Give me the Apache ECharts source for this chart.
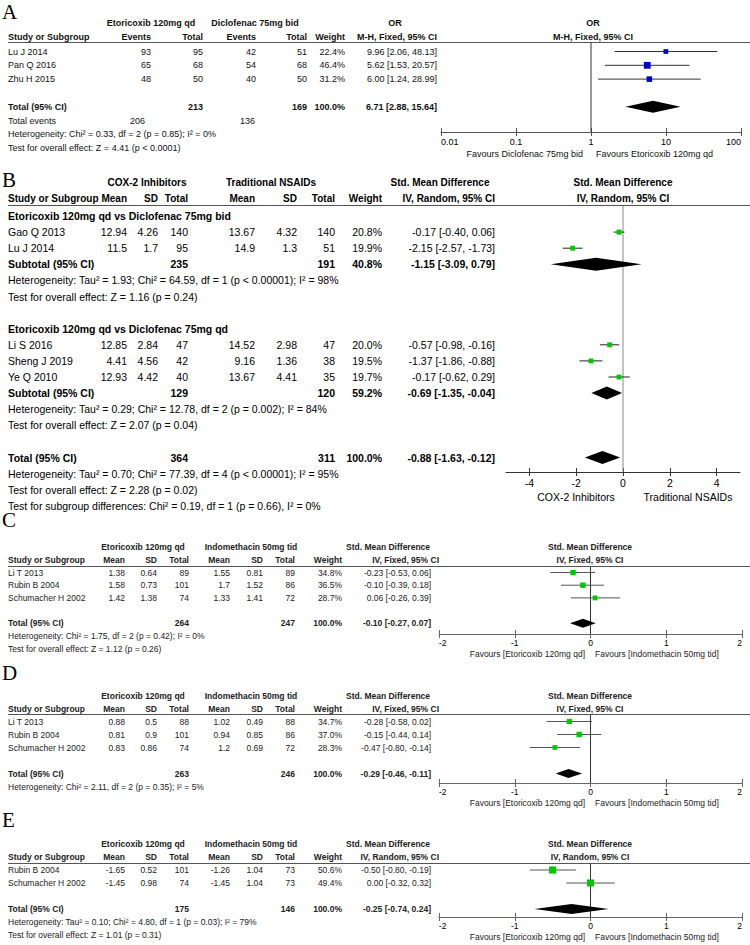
<!DOCTYPE html>
<html><head><meta charset="utf-8">
<script src="https://cdn.jsdelivr.net/npm/echarts@6/dist/echarts.min.js"></script>
<style>html,body{margin:0;padding:0;background:#fff}#c{width:750px;height:945px}</style>
</head><body><div id="c"></div>
<script>
// ================= DATA =================
// Panel A
const A_study = ['Lu J 2014', 'Pan Q 2016', 'Zhu H 2015'];
const A_expEvents = [93, 65, 48];
const A_expTotal = [95, 68, 50];
const A_ctlEvents = [42, 54, 40];
const A_ctlTotal = [51, 68, 50];
const A_weight = [22.4, 46.4, 31.2];
const A_or = [9.96, 5.62, 6.00];
const A_lo = [2.06, 1.53, 1.24];
const A_hi = [48.13, 20.57, 28.99];
const A_pooled = [6.71, 2.88, 15.64];
const A_sumTotals = [213, 169];
const A_sumEvents = [206, 136];
const A_ticks = ['0.01', '0.1', '1', '10', '100'];
const A_het = 'Heterogeneity: Chi² = 0.33, df = 2 (p = 0.85); I² = 0%';
const A_test = 'Test for overall effect: Z = 4.41 (p < 0.0001)';

// Panel B
const B_groups = ['Etoricoxib 120mg qd vs Diclofenac 75mg bid', 'Etoricoxib 120mg qd vs Diclofenac 75mg qd'];
const B_groupOf = [0, 0, 1, 1, 1];
const B_study = ['Gao Q 2013', 'Lu J 2014', 'Li S 2016', 'Sheng J 2019', 'Ye Q 2010'];
const B_mean1 = [12.94, 11.5, 12.85, 4.41, 12.93];
const B_sd1 = [4.26, 1.7, 2.84, 4.56, 4.42];
const B_n1 = [140, 95, 47, 42, 40];
const B_mean2 = [13.67, 14.9, 14.52, 9.16, 13.67];
const B_sd2 = [4.32, 1.3, 2.98, 1.36, 4.41];
const B_n2 = [140, 51, 47, 38, 35];
const B_weight = [20.8, 19.9, 20.0, 19.5, 19.7];
const B_smd = [-0.17, -2.15, -0.57, -1.37, -0.17];
const B_lo = [-0.40, -2.57, -0.98, -1.86, -0.62];
const B_hi = [0.06, -1.73, -0.16, -0.88, 0.29];
const B_subN1 = [235, 129];
const B_subN2 = [191, 120];
const B_subW = [40.8, 59.2];
const B_subEst = [-1.15, -0.69];
const B_subLo = [-3.09, -1.35];
const B_subHi = [0.79, -0.04];
const B_subHet = ['Heterogeneity: Tau² = 1.93; Chi² = 64.59, df = 1 (p < 0.00001); I² = 98%',
                  'Heterogeneity: Tau² = 0.29; Chi² = 12.78, df = 2 (p = 0.002); I² = 84%'];
const B_subTest = ['Test for overall effect: Z = 1.16 (p = 0.24)', 'Test for overall effect: Z = 2.07 (p = 0.04)'];
const B_totals = [364, 311];
const B_pooled = [-0.88, -1.63, -0.12];
const B_het = 'Heterogeneity: Tau² = 0.70; Chi² = 77.39, df = 4 (p < 0.00001); I² = 95%';
const B_test = 'Test for overall effect: Z = 2.28 (p = 0.02)';
const B_diff = 'Test for subgroup differences: Chi² = 0.19, df = 1 (p = 0.66), I² = 0%';
const B_ticks = [-4, -2, 0, 2, 4];

// Panel C
const C_study = ['Li T 2013', 'Rubin B 2004', 'Schumacher H 2002'];
const C_mean1 = [1.38, 1.58, 1.42];
const C_sd1 = [0.64, 0.73, 1.38];
const C_n1 = [89, 101, 74];
const C_mean2 = [1.55, 1.7, 1.33];
const C_sd2 = [0.81, 1.52, 1.41];
const C_n2 = [89, 86, 72];
const C_weight = [34.8, 36.5, 28.7];
const C_smd = [-0.23, -0.10, 0.06];
const C_lo = [-0.53, -0.39, -0.26];
const C_hi = [0.06, 0.18, 0.39];
const C_totals = [264, 247];
const C_pooled = [-0.10, -0.27, 0.07];
const C_notes = ['Heterogeneity: Chi² = 1.75, df = 2 (p = 0.42); I² = 0%', 'Test for overall effect: Z = 1.12 (p = 0.26)'];

// Panel D
const D_study = ['Li T 2013', 'Rubin B 2004', 'Schumacher H 2002'];
const D_mean1 = [0.88, 0.81, 0.83];
const D_sd1 = [0.5, 0.9, 0.86];
const D_n1 = [88, 101, 74];
const D_mean2 = [1.02, 0.94, 1.2];
const D_sd2 = [0.49, 0.85, 0.69];
const D_n2 = [88, 86, 72];
const D_weight = [34.7, 37.0, 28.3];
const D_smd = [-0.28, -0.15, -0.47];
const D_lo = [-0.58, -0.44, -0.80];
const D_hi = [0.02, 0.14, -0.14];
const D_totals = [263, 246];
const D_pooled = [-0.29, -0.46, -0.11];
const D_notes = ['Heterogeneity: Chi² = 2.11, df = 2 (p = 0.35); I² = 5%'];

// Panel E
const E_study = ['Rubin B 2004', 'Schumacher H 2002'];
const E_mean1 = [-1.65, -1.45];
const E_sd1 = [0.52, 0.98];
const E_n1 = [101, 74];
const E_mean2 = [-1.26, -1.45];
const E_sd2 = [1.04, 1.04];
const E_n2 = [73, 73];
const E_weight = [50.6, 49.4];
const E_smd = [-0.50, 0.00];
const E_lo = [-0.80, -0.32];
const E_hi = [-0.19, 0.32];
const E_totals = [175, 146];
const E_pooled = [-0.25, -0.74, 0.24];
const E_notes = ['Heterogeneity: Tau² = 0.10; Chi² = 4.80, df = 1 (p = 0.03); I² = 79%', 'Test for overall effect: Z = 1.01 (p = 0.31)'];

const CDE_ticks = [-2, -1, 0, 1, 2];

// ================= RENDERING =================
const SANS = '"Liberation Sans", Arial, Helvetica, sans-serif';
const SERIF = '"Liberation Serif", "Times New Roman", serif';
const graphics = [];
function T(x, y, text, size, opt) {
  opt = opt || {};
  const align = opt.align || 'left';
  graphics.push({
    type: 'text', x: x, y: y, silent: true, z: 10,
    style: {
      text: String(text),
      font: (opt.bold ? 'bold ' : '') + size + 'px ' + (opt.family || SANS),
      fill: opt.color || '#000',
      textAlign: align, textVerticalAlign: 'middle', align: align, verticalAlign: 'middle'
    }
  });
}
function HL(x1, x2, y, color) {
  graphics.push({ type: 'line', silent: true, z: 5, shape: { x1: x1, y1: y, x2: x2, y2: y }, style: { stroke: color, lineWidth: 1 } });
}
const ci = (e, l, h) => e.toFixed(2) + ' [' + l.toFixed(2) + ', ' + h.toFixed(2) + ']';
const pct = w => w.toFixed(1) + '%';

const grids = [], xAxes = [], yAxes = [], series = [];
function addPlot(L) {
  const gi = grids.length;
  grids.push({ left: L.left, top: L.top, width: L.right - L.left, height: L.bottom - L.top, containLabel: false });
  const yMin = (L.top - L.y0) / L.dy, yMax = (L.bottom - L.y0) / L.dy;
  yAxes.push({ type: 'value', gridIndex: gi, min: yMin, max: yMax, inverse: true, show: false });
  const base = { type: L.xType, gridIndex: gi, min: L.xMin, max: L.xMax, position: 'bottom', splitLine: { show: false } };
  if (L.xType === 'log') base.logBase = 10;
  if (L.interval) base.interval = L.interval;
  const labelCfg = { show: true, fontSize: L.fontSize, fontFamily: 'Liberation Sans', color: '#000', margin: L.margin, hideOverlap: false };
  if (L.labelFmt) labelCfg.formatter = L.labelFmt;
  if (L.alignEnds) { labelCfg.alignMinLabel = 'left'; labelCfg.alignMaxLabel = 'right'; }
  const tickCfg = { show: true, length: 4, lineStyle: { color: L.axisColor } };
  if (L.ticks) { labelCfg.customValues = L.ticks; tickCfg.customValues = L.ticks; }
  const xi = xAxes.length;
  xAxes.push(Object.assign({}, base, { axisLine: { show: true, onZero: false, lineStyle: { color: L.axisColor } }, axisTick: tickCfg, axisLabel: labelCfg }));
  xAxes.push(Object.assign({}, base, { axisLine: { show: false, onZero: false }, axisTick: Object.assign({}, tickCfg, { inside: true }), axisLabel: { show: false } }));
  const P = { xi: xi, yi: gi, yMin: yMin, yMax: yMax };
  // line of no effect
  series.push({
    type: 'custom', xAxisIndex: xi, yAxisIndex: gi, clip: false, silent: true, z: 2,
    data: [[L.nullVal, yMin, yMax]], encode: { x: 0, y: [1, 2] },
    renderItem: function (p, api) {
      const a = api.coord([api.value(0), api.value(1)]), b = api.coord([api.value(0), api.value(2)]);
      return { type: 'line', shape: { x1: a[0], y1: a[1], x2: b[0], y2: b[1] }, style: { stroke: L.nullColor, lineWidth: 1 } };
    }
  });
  return P;
}
function addStudies(P, est, lo, hi, rows, weights, k, fill, stroke) {
  series.push({
    type: 'custom', xAxisIndex: P.xi, yAxisIndex: P.yi, clip: false, silent: true, z: 3,
    data: est.map((e, i) => [e, lo[i], hi[i], rows[i], weights[i]]),
    encode: { x: [0, 1, 2], y: 3 },
    renderItem: function (p, api) {
      const c = api.coord([api.value(0), api.value(3)]);
      const a = api.coord([api.value(1), api.value(3)]);
      const b = api.coord([api.value(2), api.value(3)]);
      const s = Math.sqrt(api.value(4)) * k;
      return { type: 'group', children: [
        { type: 'line', shape: { x1: a[0], y1: c[1], x2: b[0], y2: c[1] }, style: { stroke: stroke, lineWidth: 1 } },
        { type: 'rect', shape: { x: c[0] - s / 2, y: c[1] - s / 2, width: s, height: s }, style: { fill: fill } }
      ] };
    }
  });
}
function addDiamonds(P, items, h) {
  series.push({
    type: 'custom', xAxisIndex: P.xi, yAxisIndex: P.yi, clip: false, silent: true, z: 4,
    data: items, encode: { x: [0, 1, 2], y: 3 },
    renderItem: function (p, api) {
      const c = api.coord([api.value(0), api.value(3)]);
      const l = api.coord([api.value(1), api.value(3)]);
      const r = api.coord([api.value(2), api.value(3)]);
      return { type: 'polygon', shape: { points: [[l[0], c[1]], [c[0], c[1] - h / 2], [r[0], c[1]], [c[0], c[1] + h / 2]] }, style: { fill: '#000' } };
    }
  });
}

// ---------- Panel A ----------
(function () {
  const y0 = 51.5, dy = 13.8, f = 9, col = '#111';
  const ry = r => y0 + dy * r;
  T(2, 12, 'A', 21, { family: SERIF });
  const b = { bold: true, color: col };
  T(151, 23, 'Etoricoxib 120mg qd', f, Object.assign({ align: 'center' }, b));
  T(255, 23, 'Diclofenac 75mg bid', f, Object.assign({ align: 'center' }, b));
  T(395, 23, 'OR', f, Object.assign({ align: 'center' }, b));
  T(593, 23, 'OR', f, Object.assign({ align: 'center' }, b));
  T(8, 37, 'Study or Subgroup', f, b);
  [['Events', 151], ['Total', 203], ['Events', 256], ['Total', 307], ['Weight', 345], ['M-H, Fixed, 95% CI', 437]]
    .forEach(h => T(h[1], 37, h[0], f, Object.assign({ align: 'right' }, b)));
  T(593, 37, 'M-H, Fixed, 95% CI', f, Object.assign({ align: 'center' }, b));
  HL(8, 750, 42.5, '#555');
  const n = A_study.length;
  const rows = A_study.map((s, i) => i);
  A_study.forEach((s, i) => {
    const y = ry(rows[i]), o = { align: 'right', color: col };
    T(8, y, s, f, { color: col });
    T(151, y, A_expEvents[i], f, o); T(203, y, A_expTotal[i], f, o);
    T(256, y, A_ctlEvents[i], f, o); T(307, y, A_ctlTotal[i], f, o);
    T(345, y, pct(A_weight[i]), f, o); T(437, y, ci(A_or[i], A_lo[i], A_hi[i]), f, o);
  });
  const tr = n + 1, ob = { align: 'right', bold: true, color: col };
  T(8, ry(tr), 'Total (95% CI)', f, b);
  T(203, ry(tr), A_sumTotals[0], f, ob); T(307, ry(tr), A_sumTotals[1], f, ob);
  T(345, ry(tr), '100.0%', f, ob); T(437, ry(tr), ci(A_pooled[0], A_pooled[1], A_pooled[2]), f, ob);
  T(8, ry(tr + 1), 'Total events', f, { color: col });
  T(145, ry(tr + 1), A_sumEvents[0], f, { align: 'right', color: col });
  T(255, ry(tr + 1), A_sumEvents[1], f, { align: 'right', color: col });
  T(8, ry(tr + 2), A_het, f, { color: col });
  T(8, ry(tr + 3), A_test, f, { color: col });
  const P = addPlot({ left: 441, right: 741, top: 42.5, bottom: 132, y0: y0, dy: dy, xType: 'log', xMin: 0.01, xMax: 100,
    fontSize: f, margin: 5, axisColor: '#555', nullVal: 1, nullColor: '#333', alignEnds: true,
    labelFmt: v => A_ticks.find(t => Math.abs(Math.log10(+t) - Math.log10(v)) < 1e-6) || '' });
  addStudies(P, A_or, A_lo, A_hi, rows, A_weight, 1.0, '#0000cc', '#333');
  addDiamonds(P, [[A_pooled[0], A_pooled[1], A_pooled[2], tr]], 12);
  T(583, 154, 'Favours Diclofenac 75mg bid', f, { align: 'right', color: col });
  T(596, 154, 'Favours Etoricoxib 120mg qd', f, { color: col });
})();

// ---------- Panel B ----------
(function () {
  const y0 = 216, dy = 16.1, f = 10.5, fh = 10, col = '#000';
  const ry = r => y0 + dy * r;
  T(2, 180, 'B', 21, { family: SERIF });
  const b = { bold: true, color: col };
  T(147, 182, 'COX-2 Inhibitors', fh, Object.assign({ align: 'center' }, b));
  T(271, 182, 'Traditional NSAIDs', fh, Object.assign({ align: 'center' }, b));
  T(440, 182, 'Std. Mean Difference', fh, Object.assign({ align: 'center' }, b));
  T(623, 182, 'Std. Mean Difference', fh, Object.assign({ align: 'center' }, b));
  T(8, 198, 'Study or Subgroup', fh, b);
  [['Mean', 127], ['SD', 158], ['Total', 188], ['Mean', 255], ['SD', 297], ['Total', 335], ['Weight', 382], ['IV, Random, 95% CI', 495]]
    .forEach(h => T(h[1], 198, h[0], fh, Object.assign({ align: 'right' }, b)));
  T(623, 198, 'IV, Random, 95% CI', fh, Object.assign({ align: 'center' }, b));
  HL(8, 750, 205.5, '#555');
  const P = addPlot({ left: 506, right: 740, top: 205.5, bottom: 472, y0: y0, dy: dy, xType: 'value', xMin: -5, xMax: 5,
    ticks: B_ticks, fontSize: f, margin: 5, axisColor: '#333', nullVal: 0, nullColor: '#888' });
  const rows = [], diamonds = [];
  let r = 0;
  const ob = { align: 'right', bold: true, color: col };
  B_groups.forEach((g, gi) => {
    T(8, ry(r), g, f, b);
    r++;
    B_study.forEach((s, i) => {
      if (B_groupOf[i] !== gi) return;
      rows[i] = r;
      const y = ry(r), o = { align: 'right', color: col };
      T(8, y, s, f, { color: col });
      T(127, y, B_mean1[i], f, o); T(158, y, B_sd1[i], f, o); T(188, y, B_n1[i], f, o);
      T(255, y, B_mean2[i], f, o); T(297, y, B_sd2[i], f, o); T(335, y, B_n2[i], f, o);
      T(382, y, pct(B_weight[i]), f, o); T(495, y, ci(B_smd[i], B_lo[i], B_hi[i]), f, o);
      r++;
    });
    T(8, ry(r), 'Subtotal (95% CI)', f, b);
    T(188, ry(r), B_subN1[gi], f, ob); T(335, ry(r), B_subN2[gi], f, ob);
    T(382, ry(r), pct(B_subW[gi]), f, ob); T(495, ry(r), ci(B_subEst[gi], B_subLo[gi], B_subHi[gi]), f, ob);
    diamonds.push([B_subEst[gi], B_subLo[gi], B_subHi[gi], r]);
    T(8, ry(r + 1), B_subHet[gi], f, { color: col });
    T(8, ry(r + 2), B_subTest[gi], f, { color: col });
    r += 4;
  });
  T(8, ry(r), 'Total (95% CI)', f, b);
  T(188, ry(r), B_totals[0], f, ob); T(335, ry(r), B_totals[1], f, ob);
  T(382, ry(r), '100.0%', f, ob); T(495, ry(r), ci(B_pooled[0], B_pooled[1], B_pooled[2]), f, ob);
  diamonds.push([B_pooled[0], B_pooled[1], B_pooled[2], r]);
  T(8, ry(r + 1), B_het, f, { color: col });
  T(8, ry(r + 2), B_test, f, { color: col });
  T(8, ry(r + 3), B_diff, f, { color: col });
  addStudies(P, B_smd, B_lo, B_hi, rows, B_weight, 1.1, '#00c800', '#222');
  addDiamonds(P, diamonds, 13);
  T(576, 497, 'COX-2 Inhibitors', f, { align: 'center', color: col });
  T(688, 497, 'Traditional NSAIDs', f, { align: 'center', color: col });
})();

// ---------- Panels C, D, E ----------
function smdPanel(o) {
  const f = 8.5, col = '#222';
  const ry = r => o.y0 + o.dy * r;
  T(2, o.letterY, o.letter, 21, { family: SERIF });
  const b = { bold: true, color: col };
  T(143, o.h1, 'Etoricoxib 120mg qd', f, Object.assign({ align: 'center' }, b));
  T(251, o.h1, 'Indomethacin 50mg tid', f, Object.assign({ align: 'center' }, b));
  T(388, o.h1, 'Std. Mean Difference', f, Object.assign({ align: 'center' }, b));
  T(590, o.h1, 'Std. Mean Difference', f, Object.assign({ align: 'center' }, b));
  T(8, o.h2, 'Study or Subgroup', f, b);
  [['Mean', 125], ['SD', 157], ['Total', 189], ['Mean', 230], ['SD', 263], ['Total', 295], ['Weight', 342], [o.method, 439]]
    .forEach(h => T(h[1], o.h2, h[0], f, Object.assign({ align: 'right' }, b)));
  T(590, o.h2, o.method, f, Object.assign({ align: 'center' }, b));
  HL(8, 750, o.line, '#555');
  const rows = o.study.map((s, i) => i);
  o.study.forEach((s, i) => {
    const y = ry(rows[i]), a = { align: 'right', color: col };
    T(8, y, s, f, { color: col });
    T(125, y, o.mean1[i], f, a); T(157, y, o.sd1[i], f, a); T(189, y, o.n1[i], f, a);
    T(230, y, o.mean2[i], f, a); T(263, y, o.sd2[i], f, a); T(295, y, o.n2[i], f, a);
    T(342, y, pct(o.weight[i]), f, a); T(431, y, ci(o.smd[i], o.lo[i], o.hi[i]), f, a);
  });
  const tr = o.study.length + 1, ob = { align: 'right', bold: true, color: col };
  T(8, ry(tr), 'Total (95% CI)', f, b);
  T(189, ry(tr), o.totals[0], f, ob); T(295, ry(tr), o.totals[1], f, ob);
  T(342, ry(tr), '100.0%', f, ob); T(431, ry(tr), ci(o.pooled[0], o.pooled[1], o.pooled[2]), f, ob);
  o.notes.forEach((t, k) => T(8, ry(tr + 1 + k), t, f, { color: col }));
  const P = addPlot({ left: 439, right: 742, top: o.line, bottom: o.axis, y0: o.y0, dy: o.dy, xType: 'value', xMin: -2, xMax: 2,
    interval: 1, ticks: CDE_ticks, fontSize: f, margin: 4, axisColor: '#666', nullVal: 0, nullColor: '#333', alignEnds: true });
  addStudies(P, o.smd, o.lo, o.hi, rows, o.weight, o.k, '#00c800', '#555');
  addDiamonds(P, [[o.pooled[0], o.pooled[1], o.pooled[2], tr]], o.dh);
  T(585, o.axis + 20, 'Favours [Etoricoxib 120mg qd]', f, { align: 'right', color: col });
  T(595, o.axis + 20, 'Favours [Indomethacin 50mg tid]', f, { color: col });
}
smdPanel({ letter: 'C', letterY: 520, h1: 547, h2: 560, line: 566.5, axis: 634, y0: 572.5, dy: 12.7, method: 'IV, Fixed, 95% CI',
  study: C_study, mean1: C_mean1, sd1: C_sd1, n1: C_n1, mean2: C_mean2, sd2: C_sd2, n2: C_n2, weight: C_weight,
  smd: C_smd, lo: C_lo, hi: C_hi, totals: C_totals, pooled: C_pooled, notes: C_notes, k: 0.9, dh: 9 });
smdPanel({ letter: 'D', letterY: 673, h1: 696, h2: 709, line: 714.5, axis: 783, y0: 721.5, dy: 13, method: 'IV, Fixed, 95% CI',
  study: D_study, mean1: D_mean1, sd1: D_sd1, n1: D_n1, mean2: D_mean2, sd2: D_sd2, n2: D_n2, weight: D_weight,
  smd: D_smd, lo: D_lo, hi: D_hi, totals: D_totals, pooled: D_pooled, notes: D_notes, k: 0.9, dh: 9 });
smdPanel({ letter: 'E', letterY: 820, h1: 844, h2: 857, line: 863.5, axis: 917, y0: 870, dy: 13, method: 'IV, Random, 95% CI',
  study: E_study, mean1: E_mean1, sd1: E_sd1, n1: E_n1, mean2: E_mean2, sd2: E_sd2, n2: E_n2, weight: E_weight,
  smd: E_smd, lo: E_lo, hi: E_hi, totals: E_totals, pooled: E_pooled, notes: E_notes, k: 1.0, dh: 10 });

const chart = echarts.init(document.getElementById('c'), null, { renderer: 'svg', width: 750, height: 945 });
chart.setOption({
  animation: false,
  backgroundColor: '#fff',
  grid: grids, xAxis: xAxes, yAxis: yAxes, series: series,
  graphic: { elements: graphics }
});
</script>
</body></html>
